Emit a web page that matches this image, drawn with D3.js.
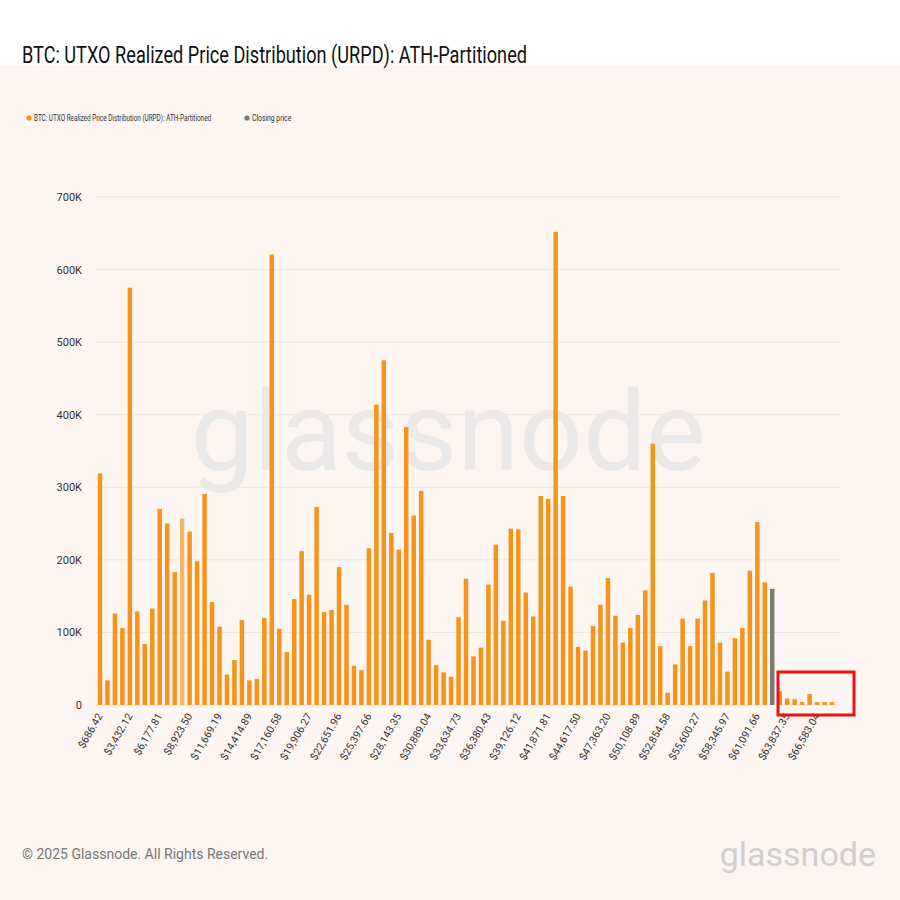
<!DOCTYPE html>
<html><head><meta charset="utf-8">
<script src="https://cdn.jsdelivr.net/npm/d3@7"></script>
<style>body{margin:0;background:#fff}svg{display:block}</style>
</head><body>
<script>
const values = [319,34,126,106,575,129,84,133,270,250,183,257,239,198,291,142,108,42,62,117,34,36,120,621,105,73,146,212,152,273,128,131,190,138,54,48,216,414,475,237,214,383,261,295,90,55,45,39,121,174,67,79,166,221,116,243,242,155,122,288,284,652,288,163,80,75,109,138,175,123,86,106,124,158,360,81,17,56,119,81,119,144,182,86,46,92,106,185,252,169,160,19,9,8,4,15,4,4,4];
const closingIndex = 90;
const lightIndex = 11;
const tickLabels = ["$686.42","$3,432.12","$6,177.81","$8,923.50","$11,669.19","$14,414.89","$17,160.58","$19,906.27","$22,651.96","$25,397.66","$28,143.35","$30,889.04","$33,634.73","$36,380.43","$39,126.12","$41,871.81","$44,617.50","$47,363.20","$50,108.89","$52,854.58","$55,600.27","$58,345.97","$61,091.66","$63,837.35","$66,583.04"];
const yTicks = [0,100,200,300,400,500,600,700];

const svg = d3.select("body").append("svg").attr("width",900).attr("height",900);
svg.append("rect").attr("width",900).attr("height",900).attr("fill","#fdf5f1");
svg.append("rect").attr("width",900).attr("height",66).attr("fill","#ffffff");
svg.append("text").attr("x",22).attr("y",63).text("BTC: UTXO Realized Price Distribution (URPD): ATH-Partitioned")
  .attr("font-family","Roboto, sans-serif").attr("font-size",23).attr("fill","#111").attr("textLength",505).attr("lengthAdjust","spacingAndGlyphs");

// legend
const lg = svg.append("g").attr("font-family","Roboto, sans-serif").attr("font-size",8.5).attr("fill","#333");
lg.append("circle").attr("cx",29).attr("cy",118).attr("r",2.6).attr("fill","#f7931a");
lg.append("text").attr("transform","translate(34,121) scale(0.75,1)").text("BTC: UTXO Realized Price Distribution (URPD): ATH-Partitioned");
lg.append("circle").attr("cx",247).attr("cy",118).attr("r",2.6).attr("fill","#777");
lg.append("text").attr("transform","translate(252,121) scale(0.8,1)").text("Closing price");

const x = d3.scaleBand().domain(d3.range(values.length)).range([97,835]).paddingInner(0.4).paddingOuter(0.1);
const y = d3.scaleLinear().domain([0,700]).range([705,197]);

// watermark
svg.append("text").attr("x",448).attr("y",470).attr("text-anchor","middle").text("glassnode")
  .attr("font-family","Roboto, sans-serif").attr("font-size",112).attr("fill","#e6e6e6").attr("opacity",0.8);

// grid
svg.append("g").selectAll("line").data(yTicks).join("line")
  .attr("x1",95).attr("x2",840).attr("y1",d=>y(d)).attr("y2",d=>y(d)).attr("stroke","#ebe7e4").attr("stroke-width",1);
svg.append("g").selectAll("text").data(yTicks).join("text")
  .attr("x",82).attr("y",d=>y(d)+4).attr("text-anchor","end").text(d=>d===0?"0":d+"K")
  .attr("font-family","Roboto, sans-serif").attr("font-size",11).attr("fill","#333");

// bars
svg.append("g").selectAll("rect").data(values).join("rect")
  .attr("x",(d,i)=>x(i)).attr("width",x.bandwidth())
  .attr("y",d=>y(d)).attr("height",d=>y(0)-y(d))
  .attr("fill",(d,i)=>i===closingIndex?"#7a7a7a":(i===lightIndex?"#f6b466":"#f7931a"));

// x labels
svg.append("g").selectAll("text").data(tickLabels).join("text")
  .attr("transform",(d,k)=>`translate(${x(k*4)+x.bandwidth()/2+3},${716}) rotate(-60)`)
  .attr("text-anchor","end").text(d=>d)
  .attr("font-family","Roboto, sans-serif").attr("font-size",10.5).attr("fill","#333");

// red annotation box
svg.append("rect").attr("x",778).attr("y",672).attr("width",76).attr("height",43)
  .attr("fill","none").attr("stroke","#ee1111").attr("stroke-width",3);

// footer
svg.append("text").attr("x",22).attr("y",859).text("© 2025 Glassnode. All Rights Reserved.")
  .attr("font-family","Roboto, sans-serif").attr("font-size",14).attr("fill","#777");
svg.append("text").attr("x",876).attr("y",866).attr("text-anchor","end").text("glassnode")
  .attr("font-family","Roboto, sans-serif").attr("font-size",34).attr("fill","#cfcfcf");
</script>
</body></html>
